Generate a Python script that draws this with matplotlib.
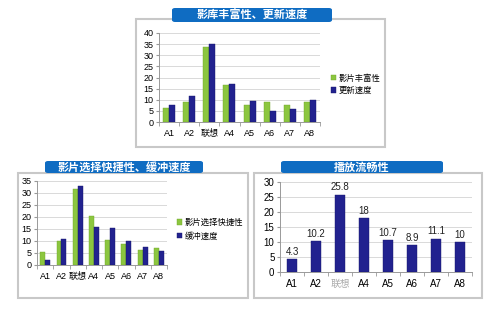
import numpy as np
import matplotlib
matplotlib.use('Agg')
import matplotlib.pyplot as plt
from matplotlib.patches import Rectangle, FancyBboxPatch

plt.rcParams['font.family'] = ['Liberation Sans', 'Noto Sans CJK SC', 'DejaVu Sans']

cats = ['A1', 'A2', '联想', 'A4', 'A5', 'A6', 'A7', 'A8']

# 影库丰富性、更新速度
rich = [6.2, 9.2, 33.5, 16.8, 7.8, 9.2, 7.8, 8.8]
update = [7.5, 11.5, 35, 17, 9.3, 4.8, 5.8, 9.8]

# 影片选择快捷性、缓冲速度
select = [5.3, 10, 31.5, 20.5, 10.5, 8.8, 6.2, 7]
buffer = [2.2, 11, 33, 16, 15.5, 10.2, 7.4, 5.8]

# 播放流畅性
smooth = [4.3, 10.2, 25.8, 18, 10.7, 8.9, 11.1, 10]

GREEN = '#8cc63f'
BLUE = '#22228f'
BANNER = '#0f6cc2'
W, H = 500, 319

fig = plt.figure(figsize=(5, 3.19), dpi=100)
fig.patch.set_facecolor('white')


def px(x0, y0, x1, y1):
    # pixel box (top-left origin) -> figure fraction rect
    return [x0 / W, 1 - y1 / H, (x1 - x0) / W, (y1 - y0) / H]


def panel(box, banner, title):
    r = px(*box)
    fig.add_artist(Rectangle((r[0], r[1]), r[2], r[3], transform=fig.transFigure,
                             facecolor='none', edgecolor='#c8c8c8', lw=1.5, zorder=-5))
    b = px(*banner)
    fig.add_artist(FancyBboxPatch((b[0], b[1]), b[2], b[3], transform=fig.transFigure,
                                  boxstyle='round,pad=0,rounding_size=0.006',
                                  facecolor=BANNER, edgecolor='none', zorder=5))
    fig.text(b[0] + b[2] / 2, b[1] + b[3] / 2, title, color='white', fontsize=8,
             fontweight='bold', ha='center', va='center', zorder=6,
             family=['Noto Sans CJK SC', 'DejaVu Sans'])


def style(ax, ymax, step):
    ax.patch.set_alpha(0)
    ax.set_xlim(-0.5, 7.5)
    ax.set_ylim(0, ymax)
    ax.set_yticks(np.arange(0, ymax + 1, step))
    ax.yaxis.grid(True, color='#d9d9d9', lw=0.7)
    ax.set_axisbelow(True)
    for s in ['top', 'right']:
        ax.spines[s].set_visible(False)
    ax.spines['left'].set_color('#999999')
    ax.spines['bottom'].set_color('#999999')
    ax.spines['left'].set_linewidth(0.7)
    ax.spines['bottom'].set_linewidth(0.7)
    ax.set_xticks(np.arange(8))
    ax.set_xticklabels(cats)
    ax.set_xticks(np.arange(-0.5, 8, 1), minor=True)
    ax.tick_params(axis='x', which='major', length=0, labelsize=6.5, pad=5)
    ax.tick_params(axis='x', which='minor', length=3, color='#999999')
    ax.tick_params(axis='y', length=2, color='#999999', labelsize=6.5, pad=2)


x = np.arange(len(cats))

# top panel
panel((136, 19, 385, 147), (172, 8, 332, 22), '影库丰富性、更新速度')
ax1 = fig.add_axes(px(159, 33, 320, 122))
ax1.bar(x - 0.15, rich, 0.3, color=GREEN, edgecolor='#6fa52a', lw=0.3, label='影片丰富性')
ax1.bar(x + 0.15, update, 0.3, color=BLUE, edgecolor='#15156a', lw=0.3, label='更新速度')
style(ax1, 40, 5)
ax1.legend(loc='center left', bbox_to_anchor=(1.02, 0.42), frameon=False, fontsize=6,
           handlelength=0.6, handleheight=0.6, handletextpad=0.3, labelspacing=0.5)

# bottom-left panel
panel((18, 173, 248, 298), (45, 161, 203, 173), '影片选择快捷性、缓冲速度')
ax2 = fig.add_axes(px(37, 181, 167, 265))
ax2.bar(x - 0.15, select, 0.3, color=GREEN, edgecolor='#6fa52a', lw=0.3, label='影片选择快捷性')
ax2.bar(x + 0.15, buffer, 0.3, color=BLUE, edgecolor='#15156a', lw=0.3, label='缓冲速度')
style(ax2, 35, 5)
ax2.legend(loc='center left', bbox_to_anchor=(1.02, 0.42), frameon=False, fontsize=6,
           handlelength=0.6, handleheight=0.6, handletextpad=0.3, labelspacing=0.6)

# bottom-right panel
panel((254, 173, 482, 298), (281, 161, 443, 173), '播放流畅性')
ax3 = fig.add_axes(px(280, 182, 472, 272))
bars = ax3.bar(x, smooth, 0.42, color=BLUE, edgecolor='#15156a', lw=0.3)
style(ax3, 30, 5)
ax3.tick_params(axis='both', labelsize=7)
for rect, v in zip(bars, smooth):
    ax3.text(rect.get_x() + rect.get_width() / 2, v + 0.8, f'{v:g}', ha='center',
             va='bottom', fontsize=7, color='#222222')
ax3.get_xticklabels()[2].set_color('#aaaaaa')

fig.savefig('out.png', dpi=100)
